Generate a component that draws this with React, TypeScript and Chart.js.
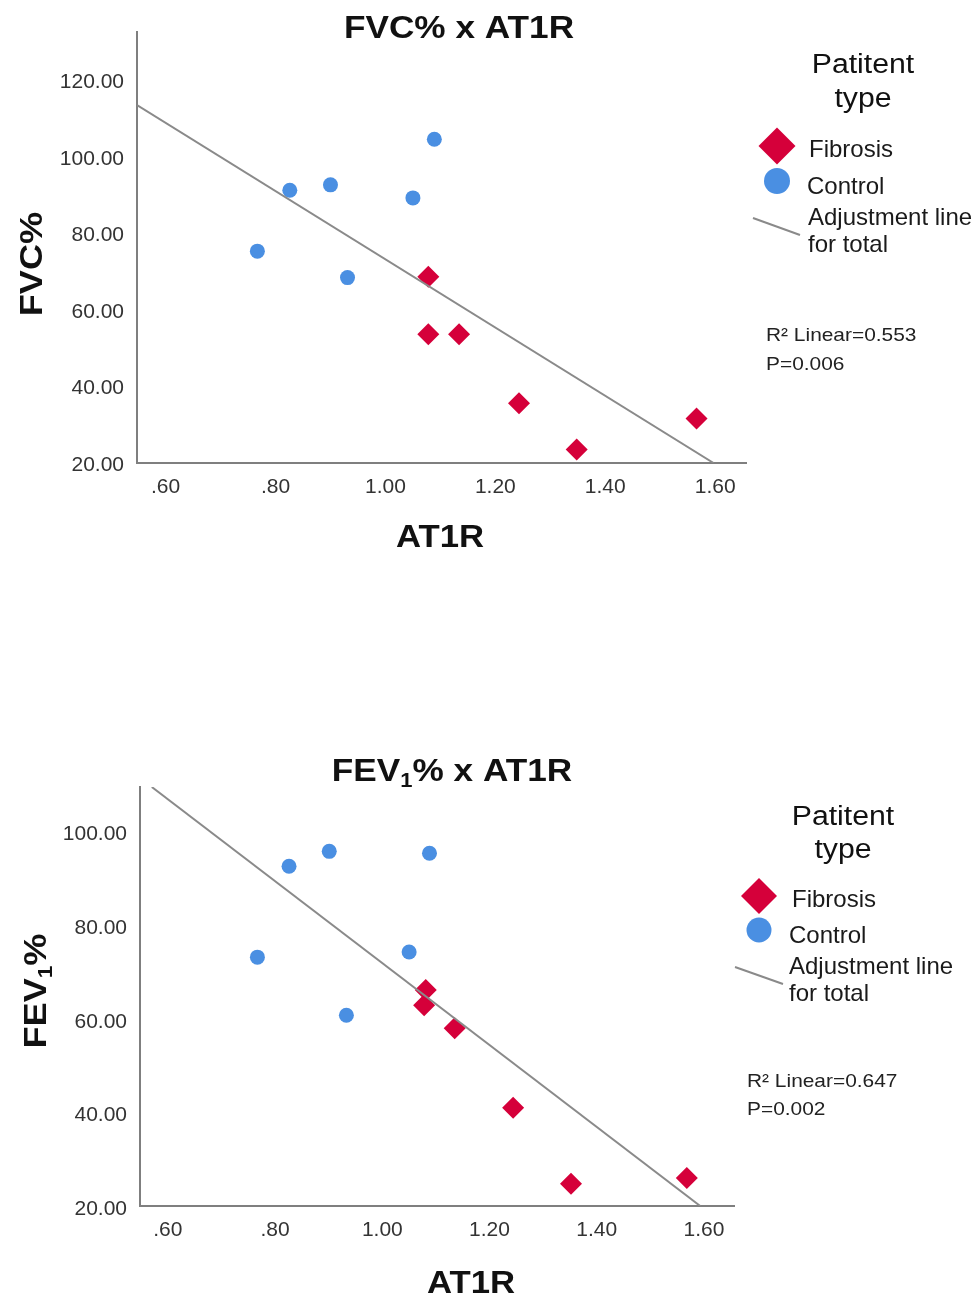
import React, { useEffect, useRef } from 'react';
import { Chart, registerables } from 'chart.js';

Chart.register(...registerables);

const FONT = '"Liberation Sans", Arial, sans-serif';

// ---------- data ----------
const xTicks = [0.6, 0.8, 1.0, 1.2, 1.4, 1.6];
const fvcYTicks = [20, 40, 60, 80, 100, 120];
const fevYTicks = [20, 40, 60, 80, 100];

const fvcControlX = [1.089, 0.826, 0.9, 1.05, 0.767, 0.931];
const fvcControlY = [105.1, 91.8, 93.2, 89.8, 75.9, 69.0];
const fvcFibrosisX = [1.078, 1.078, 1.134, 1.243, 1.348, 1.566];
const fvcFibrosisY = [69.2, 54.2, 54.2, 36.2, 24.1, 32.2];
const fvcFitX = [0.548, 1.597];
const fvcFitY = [114.05, 20.6];

const fevControlX = [0.826, 0.901, 1.088, 0.767, 1.05, 0.933];
const fevControlY = [93.2, 96.4, 96.0, 73.8, 74.9, 61.4];
const fevFibrosisX = [1.081, 1.078, 1.135, 1.244, 1.352, 1.568];
const fevFibrosisY = [66.8, 63.5, 58.6, 41.6, 25.4, 26.6];
const fevFitX = [0.57, 1.593];
const fevFitY = [110.14, 20.64];

const legendTitle = ['Patitent', 'type'];
const legendLabels = ['Fibrosis', 'Control', 'Adjustment line', 'for total'];
const fvcStats = ['R² Linear=0.553', 'P=0.006'];
const fevStats = ['R² Linear=0.647', 'P=0.002'];

const RED = '#D5003A';
const BLUE = '#4A8FE2';
const LINE = '#8a8a8a';
const AXIS = '#7f7f7f';

type Seg = { t: string; sub?: boolean };
type TextItem = {
  segs: Seg[];
  x: number;
  y: number;
  size: number;
  bold?: boolean;
  stretch?: number;
  align?: 'center' | 'left';
  rotate?: boolean;
  color?: string;
};
type PanelDecor = {
  texts: TextItem[];
  diamond: { x: number; y: number; r: number };
  circle: { x: number; y: number; r: number };
  line: { x1: number; y1: number; x2: number; y2: number };
};

function drawItem(ctx: CanvasRenderingContext2D, it: TextItem) {
  ctx.save();
  ctx.translate(it.x, it.y);
  if (it.rotate) ctx.rotate(-Math.PI / 2);
  ctx.scale(it.stretch ?? 1, 1);
  const weight = it.bold ? 'bold ' : '';
  const fontFor = (s: Seg) => `${weight}${s.sub ? Math.round(it.size * 0.62) : it.size}px ${FONT}`;
  let total = 0;
  for (const s of it.segs) {
    ctx.font = fontFor(s);
    total += ctx.measureText(s.t).width;
  }
  let x = it.align === 'left' ? 0 : -total / 2;
  const base = it.size * 0.36;
  ctx.fillStyle = it.color ?? '#111';
  ctx.textBaseline = 'alphabetic';
  ctx.textAlign = 'left';
  for (const s of it.segs) {
    ctx.font = fontFor(s);
    ctx.fillText(s.t, x, base + (s.sub ? it.size * 0.2 : 0));
    x += ctx.measureText(s.t).width;
  }
  ctx.restore();
}

const decorPlugin = {
  id: 'decor',
  afterDraw(chart: any, _args: any, opts: any) {
    const d: PanelDecor = opts.decor;
    if (!d) return;
    const ctx: CanvasRenderingContext2D = chart.ctx;
    ctx.save();
    ctx.fillStyle = RED;
    ctx.beginPath();
    ctx.moveTo(d.diamond.x - d.diamond.r, d.diamond.y);
    ctx.lineTo(d.diamond.x, d.diamond.y - d.diamond.r);
    ctx.lineTo(d.diamond.x + d.diamond.r, d.diamond.y);
    ctx.lineTo(d.diamond.x, d.diamond.y + d.diamond.r);
    ctx.closePath();
    ctx.fill();
    ctx.fillStyle = BLUE;
    ctx.beginPath();
    ctx.arc(d.circle.x, d.circle.y, d.circle.r, 0, Math.PI * 2);
    ctx.fill();
    ctx.strokeStyle = LINE;
    ctx.lineWidth = 2;
    ctx.beginPath();
    ctx.moveTo(d.line.x1, d.line.y1);
    ctx.lineTo(d.line.x2, d.line.y2);
    ctx.stroke();
    ctx.restore();
    for (const t of d.texts) drawItem(ctx, t);
  },
};

const fmtX = (v: number) => {
  const s = v.toFixed(2);
  return s.startsWith('0') ? s.slice(1) : s;
};

type PanelProps = {
  height: number;
  top: number;
  controlX: number[];
  controlY: number[];
  fibrosisX: number[];
  fibrosisY: number[];
  fitX: number[];
  fitY: number[];
  yTicks: number[];
  yMin: number;
  yMax: number;
  padding: { left: number; right: number; top: number; bottom: number };
  yWidth: number;
  decor: PanelDecor;
};

function ScatterPanel(p: PanelProps) {
  const ref = useRef<HTMLCanvasElement>(null);
  useEffect(() => {
    if (!ref.current) return;
    const pts = (xs: number[], ys: number[]) => xs.map((x, i) => ({ x, y: ys[i] }));
    const chart = new Chart(ref.current, {
      type: 'scatter',
      data: {
        datasets: [
          {
            label: 'Adjustment line for total',
            data: pts(p.fitX, p.fitY),
            showLine: true,
            borderColor: LINE,
            borderWidth: 2,
            pointRadius: 0,
            fill: false,
          } as any,
          {
            label: 'Fibrosis',
            data: pts(p.fibrosisX, p.fibrosisY),
            pointStyle: 'rectRot',
            pointRadius: 11,
            backgroundColor: RED,
            borderColor: RED,
            borderWidth: 0,
          },
          {
            label: 'Control',
            data: pts(p.controlX, p.controlY),
            pointStyle: 'circle',
            pointRadius: 7.5,
            backgroundColor: BLUE,
            borderColor: BLUE,
            borderWidth: 0,
          },
        ],
      },
      options: {
        animation: false,
        responsive: false,
        devicePixelRatio: 1,
        layout: { padding: p.padding, autoPadding: false } as any,
        plugins: {
          legend: { display: false },
          tooltip: { enabled: false },
          title: { display: false },
          decor: { decor: p.decor },
        } as any,
        scales: {
          x: {
            type: 'linear',
            min: 0.548,
            max: 1.656,
            afterBuildTicks: (s: any) => {
              s.ticks = xTicks.map((v) => ({ value: v }));
            },
            afterFit: (s: any) => {
              s.height = 60;
            },
            ticks: {
              callback: (v: any) => fmtX(Number(v)),
              font: { size: 21, family: FONT },
              color: '#333',
              padding: 12,
              maxRotation: 0,
              autoSkip: false,
            },
            grid: { display: false, drawTicks: false },
            border: { display: true, color: AXIS, width: 2 },
          },
          y: {
            type: 'linear',
            min: p.yMin,
            max: p.yMax,
            afterBuildTicks: (s: any) => {
              s.ticks = p.yTicks.map((v) => ({ value: v }));
            },
            afterFit: (s: any) => {
              s.width = p.yWidth;
            },
            ticks: {
              callback: (v: any) => Number(v).toFixed(2),
              font: { size: 21, family: FONT },
              color: '#333',
              padding: 13,
              autoSkip: false,
            },
            grid: { display: false, drawTicks: false },
            border: { display: true, color: AXIS, width: 2 },
          },
        },
      },
      plugins: [decorPlugin],
    });
    return () => chart.destroy();
  }, []);
  return (
    <canvas
      ref={ref}
      width={976}
      height={p.height}
      style={{ position: 'absolute', left: 0, top: p.top, display: 'block' }}
    />
  );
}

function legendTexts(tx: number, ty1: number, ty2: number, lx: number[], ly: number[], sx: number, sy: number[], stats: string[]): TextItem[] {
  return [
    { segs: [{ t: legendTitle[0] }], x: tx, y: ty1, size: 27, stretch: 1.12 },
    { segs: [{ t: legendTitle[1] }], x: tx, y: ty2, size: 27, stretch: 1.12 },
    ...legendLabels.map((t, i) => ({ segs: [{ t }], x: lx[i], y: ly[i], size: 24, align: 'left' as const, color: '#1a1a1a' })),
    ...stats.map((t, i) => ({ segs: [{ t }], x: sx, y: sy[i], size: 19, stretch: 1.1, align: 'left' as const, color: '#222' })),
  ];
}

const fvcDecor: PanelDecor = {
  texts: [
    { segs: [{ t: 'FVC% x AT1R' }], x: 459, y: 26, size: 32, bold: true, stretch: 1.1 },
    { segs: [{ t: 'FVC%' }], x: 30, y: 264, size: 32, bold: true, stretch: 1.13, rotate: true },
    { segs: [{ t: 'AT1R' }], x: 440, y: 536, size: 31, bold: true, stretch: 1.12 },
    ...legendTexts(863, 63, 97, [809, 807, 808, 808], [148, 185, 216, 243], 766, [334, 363], fvcStats),
  ],
  diamond: { x: 777, y: 146, r: 18.5 },
  circle: { x: 777, y: 181, r: 13 },
  line: { x1: 753, y1: 218, x2: 800, y2: 235 },
};

const FEV_TOP = 650;
const fevDecor: PanelDecor = {
  texts: [
    { segs: [{ t: 'FEV' }, { t: '1', sub: true }, { t: '% x AT1R' }], x: 452, y: 769 - FEV_TOP, size: 32, bold: true, stretch: 1.1 },
    { segs: [{ t: 'FEV' }, { t: '1', sub: true }, { t: '%' }], x: 34, y: 991 - FEV_TOP, size: 32, bold: true, stretch: 1.13, rotate: true },
    { segs: [{ t: 'AT1R' }], x: 471, y: 1282 - FEV_TOP, size: 31, bold: true, stretch: 1.12 },
    ...legendTexts(
      843,
      815 - FEV_TOP,
      848 - FEV_TOP,
      [792, 789, 789, 789],
      [898 - FEV_TOP, 934 - FEV_TOP, 965 - FEV_TOP, 992 - FEV_TOP],
      747,
      [1080 - FEV_TOP, 1108 - FEV_TOP],
      fevStats
    ),
  ],
  diamond: { x: 759, y: 896 - FEV_TOP, r: 18 },
  circle: { x: 759, y: 930 - FEV_TOP, r: 12.5 },
  line: { x1: 735, y1: 967 - FEV_TOP, x2: 783, y2: 984 - FEV_TOP },
};

export default function App() {
  return (
    <div style={{ position: 'absolute', left: 0, top: 0, width: 976, height: 1302, background: '#fff', overflow: 'hidden' }}>
      <ScatterPanel
        height={650}
        top={0}
        controlX={fvcControlX}
        controlY={fvcControlY}
        fibrosisX={fvcFibrosisX}
        fibrosisY={fvcFibrosisY}
        fitX={fvcFitX}
        fitY={fvcFitY}
        yTicks={fvcYTicks}
        yMin={20.6}
        yMax={133.1}
        padding={{ left: 0, right: 230, top: 32, bottom: 127 }}
        yWidth={137}
        decor={fvcDecor}
      />
      <ScatterPanel
        height={652}
        top={FEV_TOP}
        controlX={fevControlX}
        controlY={fevControlY}
        fibrosisX={fevFibrosisX}
        fibrosisY={fevFibrosisY}
        fitX={fevFitX}
        fitY={fevFitY}
        yTicks={fevYTicks}
        yMin={20.64}
        yMax={110.14}
        padding={{ left: 0, right: 242, top: 137, bottom: 36 }}
        yWidth={140}
        decor={fevDecor}
      />
    </div>
  );
}
